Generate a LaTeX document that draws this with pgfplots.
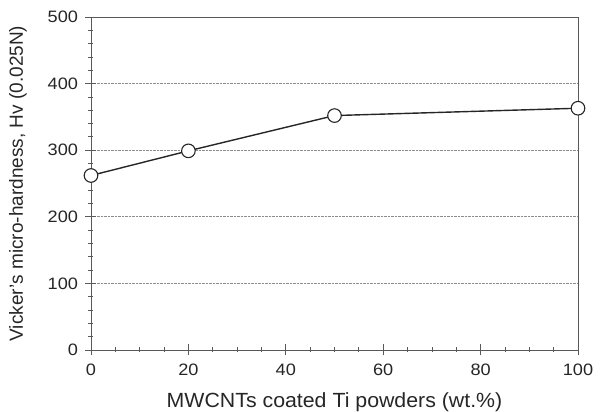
\documentclass[border=0pt]{standalone}
\usepackage{pgfplots}
\pgfplotsset{compat=1.18}
\usepackage{fontspec}
\setmainfont{Liberation Sans}
\newfontfamily\tickfont[FakeStretch=1.1]{Liberation Sans}
\newfontfamily\xlabfont[FakeStretch=1.04]{Liberation Sans}
\begin{document}
\begin{tikzpicture}
\begin{axis}[
  scale only axis,
  width=487pt, height=333pt,
  xmin=0, xmax=100, ymin=0, ymax=500,
  xtick={0,20,...,100}, ytick={0,100,...,500},
  minor xtick={5,10,15,25,30,35,45,50,55,65,70,75,85,90,95},
  minor ytick={20,40,60,80,120,140,160,180,220,240,260,280,320,340,360,380,420,440,460,480},
  tick style={black!65, line width=0.8pt},
  major tick length=11pt, minor tick length=5pt,
  xtick pos=bottom, ytick pos=left,
  tick align=center,
  minor tick style={/pgfplots/tick align=inside},
  axis line style={black!65, line width=0.9pt},
  ymajorgrids, major grid style={black!45, densely dotted, line width=0.7pt},
  /pgf/number format/assume math mode=true,
  xticklabel style={font=\tickfont\fontsize{16.5}{19}\selectfont, text=black!85, yshift=-5pt},
  yticklabel style={font=\tickfont\fontsize{16.5}{19}\selectfont, text=black!85, xshift=-4pt},
  xlabel style={font=\xlabfont\fontsize{20.5}{23}\selectfont, text=black!85, yshift=-10pt},
  ylabel style={font=\fontsize{19}{22}\selectfont, text=black!85, yshift=14pt},
  xlabel={MWCNTs coated Ti powders (wt.\%)},
  ylabel={Vicker's micro-hardness, Hv (0.025N)},
  clip=false,
]
\addplot[black!85, line width=1.4pt, mark=*, mark size=6.8pt,
  mark options={fill=white, draw=black!85, line width=1.1pt}]
  coordinates {(0,262) (20,299) (50,352) (100,363)};
\coordinate (bl) at (rel axis cs:0,0);
\coordinate (tr) at (rel axis cs:1,1);
\end{axis}
\pgfresetboundingbox
\path ([xshift=-91pt,yshift=-62pt]bl) rectangle ([xshift=23pt,yshift=17pt]tr);
\end{tikzpicture}
\end{document}
